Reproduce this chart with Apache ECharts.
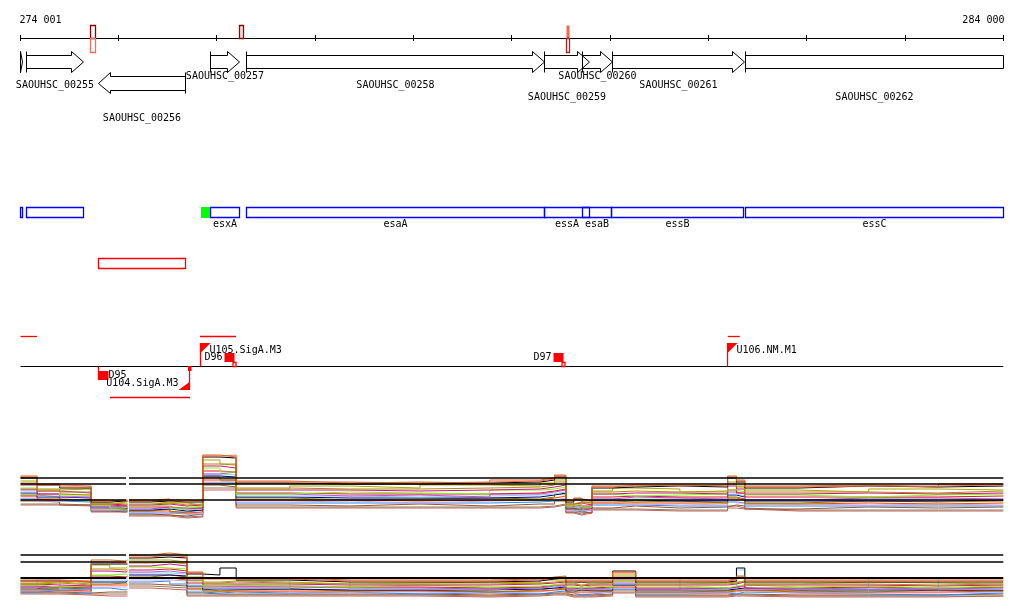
<!DOCTYPE html>
<html><head><meta charset="utf-8">
<script src="https://cdn.jsdelivr.net/npm/echarts@6/dist/echarts.min.js"></script>
<style>html,body{margin:0;padding:0;background:#fff}#c{width:1024px;height:611px}</style>
</head><body><div id="c"></div>
<script>
// ---------- data ----------
const regionStart = 274001, regionEnd = 284000;
const rulerTicks = [274001,275000,276000,277000,278000,279000,280000,281000,282000,283000,284000];
const rulerLabels = ['274 001','284 000'];

const geneNames  = ['', 'SAOUHSC_00255','SAOUHSC_00256','SAOUHSC_00257','SAOUHSC_00258','SAOUHSC_00259','SAOUHSC_00260','SAOUHSC_00261','SAOUHSC_00262'];
const geneStart  = [274001, 274057, 274792, 275929, 276302, 279336, 279723, 280025, 281374];
const geneEnd    = [274025, 274647, 275677, 276234, 279336, 279794, 280025, 281364, 284000];
const geneStrand = ['+','+','-','+','+','+','+','+','+'];

const operonNames = ['', '', 'esxA','esaA','essA','esaB','essB','essC'];
const operonStart = [274001, 274057, 275929, 276305, 279336, 279723, 280018, 281378];
const operonEnd   = [274023, 274644, 276231, 279336, 279794, 280018, 281354, 284000];
const greenStart = [275837], greenEnd = [275929];
const redBoxStart = [274792], redBoxEnd = [275677];

const markerStart = [274718, 276234, 279555];
const markerEnd   = [274769, 276269, 279582];

const regionLineStart  = [274001, 275827, 281197, 274912];
const regionLineEnd    = [274169, 276193, 281319, 275726];
const regionLineStrand = ['+','+','+','-'];

const sigNames  = ['D95','U104.SigA.M3','U105.SigA.M3','D96','D97','U106.NM.M1'];
const sigPos    = [274792, 275722, 275830, 276183, 279525, 281197];
const sigStrand = ['-','-','+','+','+','+'];

const traceXs = [274001,274170,274400,274720,274910,275075,275105,275320,275520,275695,275855,276030,276195,276740,277350,278065,278775,279285,279435,279550,279630,279710,279815,280025,280260,280710,281195,281285,281370,281920,282630,283340,284000];
const gapX = 275090;

const p1Thresholds = [52, 46, 30];
const p2Thresholds = [53, 46, 30];

const p1s01 = [54,46,43,30,29,29,30,31,28,30,75,73,49,47,48,47,50,52,55,29,32,28,44,44,45,44,54,50,44,45,43,46,46];
const p1s02 = [53,45,44,29,30,30,29,30,30,29,74,75,48,48,47,48,49,51,54,30,30,30,43,45,44,45,53,49,43,44,44,45,45];
const p1s03 = [52,45,42,28,29,29,28,29,28,28,73,72,47,46,46,47,48,50,53,28,31,29,42,43,44,43,52,48,42,44,43,44,44];
const p1s04 = [49,40,41,26,28,27,29,27,27,25,70,66,41,44,42,45,44,47,50,25,30,27,39,42,41,38,48,44,40,38,41,40,40];
const p1s05 = [47,41,38,27,26,26,26,27,25,26,66,65,42,41,41,42,43,45,48,26,28,27,38,39,38,39,46,43,38,38,37,39,39];
const p1s06 = [45,39,37,26,25,25,25,26,24,25,64,62,40,40,39,40,41,43,45,26,27,25,36,37,37,36,44,41,36,37,36,37,37];
const p1s07 = [42,39,35,25,22,23,24,25,22,24,62,58,36,38,37,36,40,41,43,24,26,23,36,34,35,36,40,38,35,33,35,36,36];
const p1s08 = [41,36,35,25,24,24,23,23,22,22,59,58,37,36,36,36,37,39,41,24,24,24,33,34,33,33,40,37,33,33,33,34,34];
const p1s09 = [40,36,33,23,24,23,21,23,21,22,56,58,36,34,35,33,36,38,40,22,25,22,31,33,32,31,38,36,30,32,32,31,31];
const p1s10 = [38,34,33,23,23,23,21,22,20,21,56,55,34,34,33,34,35,36,38,23,22,23,31,31,31,30,36,34,30,31,30,31,31];
const p1s11 = [37,33,32,23,22,22,20,21,19,20,54,53,33,32,32,32,33,35,37,22,22,22,30,30,29,29,35,33,29,29,29,30,30];
const p1s12 = [35,33,30,22,21,22,19,21,18,20,53,50,32,30,31,32,31,33,36,21,20,23,29,28,29,27,33,31,27,29,28,29,29];
const p1s13 = [34,31,30,22,21,21,19,19,17,18,50,50,30,30,29,30,30,32,34,21,20,21,27,27,27,27,32,30,26,27,26,27,27];
const p1s14 = [33,29,30,20,21,21,18,17,17,16,48,49,28,29,27,29,30,30,32,19,20,19,27,25,26,25,31,27,26,25,26,25,25];
const p1s15 = [31,29,28,20,20,20,17,17,16,16,47,47,27,27,27,27,28,29,31,20,18,20,25,25,24,24,28,27,24,24,24,24,24];
const p1s16 = [29,28,25,19,18,19,16,15,14,16,45,43,25,24,26,24,26,26,29,18,18,17,22,24,22,23,25,24,21,23,22,23,23];
const p1s17 = [26,26,25,19,19,19,15,15,13,14,42,42,23,23,23,23,23,24,26,18,16,18,21,21,20,20,24,22,20,20,20,20,20];
const p1s18 = [25,25,24,18,18,18,14,14,12,13,40,40,22,22,22,22,22,23,25,17,15,17,20,20,19,19,22,21,19,19,19,19,19];

const p2s01 = [28,28,27,48,47,48,53,55,53,36,30,30,30,28,28,28,29,31,32,28,28,28,28,36,28,28,29,32,28,28,28,28,28];
const p2s02 = [27,27,26,46,45,46,51,53,51,35,29,29,29,27,27,27,28,30,31,27,27,27,27,35,27,27,28,31,27,27,27,27,27];
const p2s03 = [27,27,26,44,44,44,50,51,50,34,33,40,28,26,26,26,27,29,30,26,26,26,26,37,26,26,27,40,26,26,26,26,26];
const p2s04 = [25,26,24,43,40,41,48,48,46,31,26,27,26,24,25,26,25,28,28,24,26,24,25,33,24,25,26,27,24,26,25,24,24];
const p2s05 = [24,25,23,39,38,39,45,46,44,30,25,26,25,24,24,24,25,26,27,24,23,24,24,31,24,24,25,27,24,24,23,24,24];
const p2s06 = [24,23,22,37,36,37,42,44,42,28,24,24,24,23,23,23,24,25,26,23,22,23,23,29,23,23,24,26,23,23,22,23,23];
const p2s07 = [23,21,22,33,34,33,41,40,39,27,22,23,22,21,23,21,22,23,25,21,20,22,21,27,22,20,22,23,21,22,20,22,22];
const p2s08 = [22,21,21,32,31,32,38,39,37,25,22,22,22,21,21,20,21,23,23,20,20,20,21,27,20,20,21,23,20,21,20,21,21];
const p2s09 = [21,21,20,30,30,30,36,37,35,35,21,21,21,20,20,19,20,22,22,19,20,19,20,25,19,20,20,22,19,20,19,20,20];
const p2s10 = [20,29,19,28,28,28,35,35,34,23,20,20,20,29,19,19,20,21,22,19,19,19,19,24,30,19,20,38,19,20,30,19,19];
const p2s11 = [20,20,19,26,26,27,33,33,32,22,19,19,19,18,18,18,19,20,21,18,18,18,18,23,18,18,19,20,18,18,18,18,18];
const p2s12 = [19,18,19,24,25,24,31,33,31,20,17,18,19,17,18,16,18,20,19,16,18,17,17,23,16,17,18,18,17,16,18,17,17];
const p2s13 = [18,18,17,23,23,23,30,30,28,19,17,17,17,17,17,16,17,18,19,16,16,16,17,21,16,16,17,18,16,16,16,17,17];
const p2s14 = [18,17,16,21,21,21,28,28,27,18,16,17,16,16,16,15,16,18,18,15,15,15,16,20,15,15,16,17,15,15,15,16,16];
const p2s15 = [16,17,15,20,18,19,26,27,24,16,15,16,15,16,14,15,14,16,17,15,13,14,16,19,14,15,14,16,15,14,13,15,15];
const p2s16 = [16,16,15,16,16,16,24,23,22,15,14,14,14,14,14,13,14,15,15,13,13,13,14,18,13,13,14,14,13,13,13,14,14];
const p2s17 = [15,15,14,14,14,14,22,21,20,13,13,13,13,13,13,12,13,14,14,12,12,12,13,16,12,12,13,13,12,12,12,12,12];
const p2s18 = [14,14,13,12,12,12,20,19,18,12,12,12,12,12,12,11,12,13,13,11,11,11,12,15,11,11,12,12,11,11,11,12,12];

// ---------- styles / layout ----------
const traceColors = ['#d2691e','#ff6347','#000000','#a8a800','#b8860b','#c71585','#7cfc00','#dc143c','#ba55d3','#87ceeb','#000080','#808000','#ff4500','#dda0dd','#1e90ff','#a0522d','#8b7d5b','#cd5c5c'];
const markerStyles = [
  {top:{stroke:'#8b0000', fill:'none'}, bottom:{stroke:'#f07060', fill:'none'}},
  {top:{stroke:'#a00000', fill:'#ffe0dc'}, bottom:null},
  {top:{stroke:null, fill:'#ff6347'}, bottom:{stroke:'#b22222', fill:'none'}}
];
const geneLabelRow = [-1,1,3,0,1,2,0,1,2];
const labelRowY = [76, 85, 97, 118];
const FONT = '10px "DejaVu Sans Mono", monospace';
const RED = '#ff0000';
const RLW = 1.3;

const p1Series = [p1s01,p1s02,p1s03,p1s04,p1s05,p1s06,p1s07,p1s08,p1s09,p1s10,p1s11,p1s12,p1s13,p1s14,p1s15,p1s16,p1s17,p1s18];
const p2Series = [p2s01,p2s02,p2s03,p2s04,p2s05,p2s06,p2s07,p2s08,p2s09,p2s10,p2s11,p2s12,p2s13,p2s14,p2s15,p2s16,p2s17,p2s18];
const GAP_AFTER = 5;

function crisp(v){ return Math.round(v - 0.5) + 0.5; }
function X(api, bp){ return api.coord([bp, 0])[0]; }
function Y(api, v){ return api.coord([regionStart, v])[1]; }
function txt(x, y, s, align, vAlign){
  return {type:'text', style:{text:s, x:x, y:y, fill:'#000', font:FONT, align:align||'center', verticalAlign:vAlign||'middle'}};
}
function lineEl(x1,y1,x2,y2,color,w){
  return {type:'line', shape:{x1:x1,y1:y1,x2:x2,y2:y2}, style:{stroke:color, lineWidth:w||1}};
}
function rectEl(x,y,w,h,stroke,fill,lw){
  return {type:'rect', shape:{x:x,y:y,width:w,height:h}, style:{stroke:stroke||null, fill:fill||'none', lineWidth:lw||1}};
}

function renderRuler(params, api){
  const i = api.value(2);
  const x = crisp(X(api, rulerTicks[i]));
  const ch = [lineEl(x, Y(api,35), x, Y(api,41), '#000')];
  if (i === 0) {
    const xe = crisp(X(api, rulerTicks[rulerTicks.length-1]));
    ch.push(lineEl(x, Y(api,38.5), xe, Y(api,38.5), '#000'));
    ch.push(txt(x - 1, Y(api,20), rulerLabels[0], 'left'));
    ch.push(txt(xe + 1, Y(api,20), rulerLabels[1], 'right'));
  }
  return {type:'group', children:ch};
}

function renderMarker(params, api){
  const i = api.value(2);
  const x1 = crisp(X(api, markerStart[i])), x2 = crisp(X(api, markerEnd[i]));
  const st = markerStyles[i];
  const ch = [];
  const yt = Y(api,25.5), ym = Y(api,38.5), yb = Y(api,52.5);
  ch.push(rectEl(x1, yt, x2-x1, ym-yt, st.top.stroke, st.top.fill, RLW));
  if (st.bottom) ch.push(rectEl(x1, ym, x2-x1, yb-ym, st.bottom.stroke, st.bottom.fill, RLW));
  return {type:'group', children:ch};
}

function renderGene(params, api){
  const i = api.value(2);
  const x1 = crisp(X(api, geneStart[i])), x2 = crisp(X(api, geneEnd[i]));
  const fwd = geneStrand[i] === '+';
  const yT = Y(api, fwd ? 55.5 : 76.5), yB = Y(api, fwd ? 68.5 : 90.5);
  const hT = Y(api, fwd ? 51.5 : 72.5), hB = Y(api, fwd ? 72.5 : 93.5);
  const ym = (yT + yB) / 2;
  const trunc = geneEnd[i] >= regionEnd;
  const head = Math.min(12, x2 - x1);
  let pts, bar;
  if (fwd) {
    if (trunc) pts = [[x1,yT],[x2,yT],[x2,yB],[x1,yB]];
    else { const hb = x2 - head; pts = [[x1,yT],[hb,yT],[hb,hT],[x2,ym],[hb,hB],[hb,yB],[x1,yB]]; }
    bar = lineEl(x1, hT, x1, hB, '#000');
  } else {
    const hb = x1 + head;
    pts = [[x2,yT],[hb,yT],[hb,hT],[x1,ym],[hb,hB],[hb,yB],[x2,yB]];
    bar = lineEl(x2, hT, x2, hB, '#000');
  }
  const ch = [{type:'polygon', shape:{points:pts}, style:{stroke:'#000', fill:'none', lineWidth:1}}, bar];
  if (geneNames[i]) ch.push(txt((x1+x2)/2, Y(api, labelRowY[geneLabelRow[i]]), geneNames[i], 'center'));
  return {type:'group', children:ch};
}

function renderOperon(params, api){
  const i = api.value(2);
  const x1 = crisp(X(api, operonStart[i])), x2 = crisp(X(api, operonEnd[i]));
  const yt = Y(api,207.5), yb = Y(api,217.5);
  const ch = [rectEl(x1, yt, x2-x1, yb-yt, '#0000ff', 'none', 1.3)];
  if (operonNames[i]) ch.push(txt((x1+x2)/2, Y(api,224.5), operonNames[i], 'center'));
  return {type:'group', children:ch};
}

function renderGreen(params, api){
  const i = api.value(2);
  const x1 = X(api, greenStart[i]), x2 = X(api, greenEnd[i]);
  return {type:'rect', shape:{x:x1, y:Y(api,207), width:x2-x1, height:Y(api,218)-Y(api,207)}, style:{fill:'#00ff00'}};
}

function renderRedBox(params, api){
  const i = api.value(2);
  const x1 = crisp(X(api, redBoxStart[i])), x2 = crisp(X(api, redBoxEnd[i]));
  return rectEl(x1, Y(api,258.5), x2-x1, Y(api,268.5)-Y(api,258.5), RED, 'none', 1.3);
}

function renderRegionLine(params, api){
  const i = api.value(2);
  const x1 = X(api, regionLineStart[i]), x2 = X(api, regionLineEnd[i]);
  const y = Y(api, regionLineStrand[i] === '+' ? 336.5 : 397.5);
  const ch = [lineEl(x1, y, x2, y, RED, RLW)];
  if (i === 0) ch.push(lineEl(X(api, regionStart), Y(api,366.5), X(api, regionEnd), Y(api,366.5), '#000'));
  return {type:'group', children:ch};
}

function renderSignal(params, api){
  const i = api.value(2);
  const P = crisp(X(api, sigPos[i]));
  const fwd = sigStrand[i] === '+';
  const isD = sigNames[i].charAt(0) === 'D';
  const ch = [];
  const base = 366.5;
  if (isD && fwd) {
    ch.push({type:'rect', shape:{x:P-10, y:Y(api,353), width:10, height:Y(api,362)-Y(api,353)}, style:{fill:RED}});
    ch.push(rectEl(P-1.5, Y(api,362.5), 3, 4, RED, '#fff', RLW));
    ch.push(txt(P-12, Y(api,357.5), sigNames[i], 'right'));
  } else if (isD && !fwd) {
    ch.push(lineEl(P, Y(api,base), P, Y(api,380), RED, RLW));
    ch.push({type:'rect', shape:{x:P, y:Y(api,371), width:10, height:Y(api,380)-Y(api,371)}, style:{fill:RED}});
    ch.push(txt(P+10, Y(api,375.5), sigNames[i], 'left'));
  } else if (!isD && fwd) {
    ch.push(lineEl(P, Y(api,343), P, Y(api,base), RED, RLW));
    ch.push({type:'polygon', shape:{points:[[P,Y(api,343)],[P+10,Y(api,343)],[P,Y(api,353)]]}, style:{fill:RED}});
    ch.push(txt(P+9, Y(api,350.5), sigNames[i], 'left'));
  } else {
    ch.push(lineEl(P, Y(api,base), P, Y(api,390), RED, RLW));
    ch.push({type:'polygon', shape:{points:[[P,Y(api,390)],[P-11,Y(api,390)],[P,Y(api,382)]]}, style:{fill:RED}});
    ch.push({type:'rect', shape:{x:P-1.5, y:Y(api,366), width:3.5, height:5}, style:{fill:RED}});
    ch.push(txt(P-11, Y(api,383.5), sigNames[i], 'right'));
  }
  return {type:'group', children:ch};
}

function customSeries(starts, ends, fn, z){
  return {type:'custom', xAxisIndex:0, yAxisIndex:0, renderItem:fn, silent:true, z:z||5,
    encode:{x:[0,1], y:2},
    data: starts.map((s,i)=>[s, ends ? ends[i] : s, i])};
}

function traceData(vals){
  const d = [];
  for (let k = 0; k < traceXs.length; k++) {
    d.push([traceXs[k], vals[k]]);
    if (k === GAP_AFTER) d.push([gapX, '-']);
  }
  return d;
}
function thresholdData(v){
  return [[traceXs[0], v], [traceXs[GAP_AFTER], v], [gapX, '-'], [traceXs[GAP_AFTER+1], v], [traceXs[traceXs.length-1], v]];
}

const series = [
  customSeries(rulerTicks, null, renderRuler),
  customSeries(markerStart, markerEnd, renderMarker, 6),
  customSeries(geneStart, geneEnd, renderGene),
  customSeries(operonStart, operonEnd, renderOperon),
  customSeries(greenStart, greenEnd, renderGreen),
  customSeries(redBoxStart, redBoxEnd, renderRedBox),
  customSeries(regionLineStart, regionLineEnd, renderRegionLine),
  customSeries(sigPos, null, renderSignal, 6)
];
const lineBase = {type:'line', step:'end', symbol:'none', showSymbol:false, silent:true, connectNulls:false, animation:false};
for (let k = p1Series.length - 1; k >= 0; k--) {
  series.push(Object.assign({}, lineBase, {xAxisIndex:1, yAxisIndex:1, data:traceData(p1Series[k]), lineStyle:{width:1, color:traceColors[k]}, z:2}));
  series.push(Object.assign({}, lineBase, {xAxisIndex:2, yAxisIndex:2, data:traceData(p2Series[k]), lineStyle:{width:1, color:traceColors[k]}, z:2}));
}
p1Thresholds.forEach(v => series.push(Object.assign({}, lineBase, {step:false, xAxisIndex:1, yAxisIndex:1, data:thresholdData(v), lineStyle:{width:1.5, color:'#000'}, z:3})));
p2Thresholds.forEach((v,j) => series.push(Object.assign({}, lineBase, {step:false, xAxisIndex:2, yAxisIndex:2, data:thresholdData(v), lineStyle:{width: j===2 ? 2 : 1.5, color:'#000'}, z:3})));

const L = 20.5, R = 1024 - 1003.3;
const chart = echarts.init(document.getElementById('c'), null, {renderer:'canvas'});
chart.setOption({
  animation:false,
  backgroundColor:'#fff',
  grid:[
    {left:L, right:R, top:0, height:611},
    {left:L, right:R, top:430, height:100},
    {left:L, right:R, top:530, height:78}
  ],
  xAxis:[0,1,2].map(i=>({type:'value', gridIndex:i, min:regionStart, max:regionEnd, show:false, splitLine:{show:false}})),
  yAxis:[
    {type:'value', gridIndex:0, min:0, max:611, inverse:true, show:false, splitLine:{show:false}},
    {type:'value', gridIndex:1, min:0, max:100, show:false, splitLine:{show:false}},
    {type:'value', gridIndex:2, min:0, max:78, show:false, splitLine:{show:false}}
  ],
  series: series
});
</script>
</body></html>
